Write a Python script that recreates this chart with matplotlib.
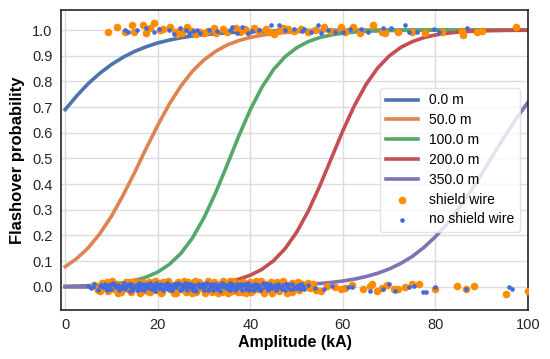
import numpy as np
import matplotlib
matplotlib.use('Agg')
import matplotlib.pyplot as plt

plt.rcParams['font.family'] = ['Liberation Sans', 'DejaVu Sans']

# curves, every 2.5 kA
amp = [0, 2.5, 5, 7.5, 10, 12.5, 15, 17.5, 20, 22.5, 25, 27.5, 30, 32.5, 35, 37.5, 40, 42.5, 45, 47.5,
       50, 52.5, 55, 57.5, 60, 62.5, 65, 67.5, 70, 72.5, 75, 77.5, 80, 82.5, 85, 87.5, 90, 92.5, 95, 97.5, 100]
curves = {
    '0.0 m': [0.690, 0.744, 0.792, 0.832, 0.866, 0.894, 0.917, 0.935, 0.950, 0.961, 0.970, 0.977, 0.982,
              0.986, 0.9895, 0.9920, 0.9938, 0.9953, 0.9964, 0.9972, 0.9979, 0.9984, 0.9988, 0.9991,
              0.9993, 0.9995, 0.9996, 0.9997, 0.9998, 0.9998, 0.9999, 0.9999, 0.9999, 0.9999,
              1.0, 1.0, 1.0, 1.0, 1.0, 1.0, 1.0],
    '50.0 m': [0.078, 0.110, 0.152, 0.207, 0.275, 0.356, 0.445, 0.539, 0.629, 0.712, 0.782, 0.840, 0.884,
               0.917, 0.942, 0.959, 0.9715, 0.980, 0.986, 0.9906, 0.9935, 0.9955, 0.9969, 0.9979,
               0.9985, 0.9990, 0.9993, 0.9995, 0.9997, 0.9998, 0.9998, 0.9999, 0.9999, 0.9999,
               1.0, 1.0, 1.0, 1.0, 1.0, 1.0, 1.0],
    '100.0 m': [0.0017, 0.0026, 0.0041, 0.0064, 0.0100, 0.0155, 0.0241, 0.0374, 0.0573, 0.0871, 0.130,
                0.190, 0.269, 0.366, 0.475, 0.587, 0.690, 0.777, 0.846, 0.896, 0.931, 0.955, 0.971,
                0.981, 0.988, 0.9922, 0.9950, 0.9968, 0.9980, 0.9987, 0.9992, 0.9995, 0.9997, 0.9998,
                0.9999, 0.9999, 1.0, 1.0, 1.0, 1.0, 1.0],
    '200.0 m': [0.0, 0.0001, 0.0001, 0.0001, 0.0002, 0.0004, 0.0006, 0.0009, 0.0014, 0.0022, 0.0034,
                0.0052, 0.0081, 0.0124, 0.0191, 0.0293, 0.0448, 0.0675, 0.101, 0.148, 0.212, 0.294,
                0.392, 0.500, 0.608, 0.706, 0.788, 0.852, 0.899, 0.9325, 0.955, 0.9707, 0.981, 0.9876,
                0.992, 0.9948, 0.9966, 0.9978, 0.9986, 0.9991, 0.9994],
    '350.0 m': [0.0, 0.0, 0.0, 0.0, 0.0001, 0.0001, 0.0001, 0.0001, 0.0002, 0.0003, 0.0004, 0.0005,
                0.0006, 0.0009, 0.0012, 0.0016, 0.0021, 0.0029, 0.0039, 0.0052, 0.0070, 0.0093, 0.0125,
                0.0167, 0.0223, 0.0298, 0.0395, 0.0524, 0.0691, 0.0907, 0.118, 0.153, 0.195, 0.245,
                0.304, 0.369, 0.440, 0.514, 0.587, 0.656, 0.719],
}
curve_colors = ['#4C72B0', '#DD8452', '#55A868', '#C44E52', '#8172B3']

# observed events (amplitude, outcome with plotting jitter)
shield_top = [(9.3, 0.993), (11.1, 1.013), (12.9, 0.993), (14.4, 1.020), (14.9, 0.993), (16.9, 1.020),
              (17.5, 0.990), (19.1, 1.027), (20.5, 1.000), (21.2, 1.005), (22.7, 1.013), (23.8, 0.993),
              (24.2, 0.985), (24.9, 1.000), (25.3, 0.987), (26.3, 1.013), (27.4, 0.997), (28.2, 0.985),
              (29.2, 0.993), (29.9, 0.987), (32.1, 1.010), (32.5, 0.988), (35.0, 0.993), (36.8, 1.010),
              (37.8, 0.993), (38.9, 1.003), (39.6, 0.992), (41.9, 0.995), (43.4, 1.005), (45.2, 0.985),
              (45.9, 0.995), (48.1, 1.005), (49.5, 0.995), (51.0, 1.003), (52.4, 0.993), (54.0, 1.000),
              (56.0, 1.013), (57.5, 0.995), (59.7, 1.013), (60.4, 0.993), (62.2, 1.013), (63.7, 0.987),
              (66.6, 1.020), (68.4, 0.993), (69.0, 0.987), (72.0, 0.993), (74.9, 0.993), (77.8, 0.990),
              (81.4, 0.993), (85.8, 0.997), (86.0, 0.980), (89.0, 0.993), (90.1, 0.997), (97.4, 1.013),
              (18.3, 1.008), (30.8, 0.998), (34.0, 1.004), (40.8, 1.010), (44.2, 0.992), (47.0, 1.010)]
shield_bottom = [(6.2, 0.008), (7.1, -0.012), (8.0, 0.015), (8.4, -0.004), (9.3, -0.018), (9.9, 0.006),
                 (10.6, -0.009), (11.2, 0.012), (11.8, -0.015), (12.5, 0.002), (13.1, 0.017), (13.6, -0.007),
                 (14.2, -0.020), (14.8, 0.010), (15.3, -0.002), (15.9, 0.014), (16.4, -0.013), (17.0, 0.004),
                 (17.6, -0.017), (18.1, 0.019), (18.7, -0.005), (19.2, 0.009), (19.8, -0.011), (20.3, 0.016),
                 (20.9, -0.019), (21.5, 0.001), (22.0, 0.013), (22.6, -0.008), (23.1, 0.006), (23.7, -0.016),
                 (24.3, 0.018), (24.8, -0.003), (25.4, 0.011), (25.9, -0.014), (26.5, 0.020), (27.1, -0.010),
                 (27.6, 0.003), (28.2, -0.021), (28.7, 0.015), (29.3, -0.006), (29.8, 0.008), (30.4, -0.017),
                 (31.0, 0.012), (31.5, -0.001), (32.1, 0.018), (32.6, -0.012), (33.2, 0.005), (33.8, -0.019),
                 (34.3, 0.010), (34.9, -0.004), (35.4, 0.016), (36.0, -0.015), (36.6, 0.002), (37.1, -0.009),
                 (37.7, 0.014), (38.2, -0.020), (38.8, 0.007), (39.4, -0.002), (39.9, 0.019), (40.5, -0.013),
                 (41.0, 0.004), (41.6, -0.008), (42.2, 0.013), (42.7, -0.018), (43.3, 0.009), (43.8, -0.005),
                 (44.4, 0.017), (45.0, -0.011), (45.5, 0.001), (46.1, -0.016), (46.6, 0.012), (47.2, -0.003),
                 (47.8, 0.008), (48.3, -0.014), (48.9, 0.015), (49.4, -0.007), (50.0, 0.003), (50.6, -0.012),
                 (51.1, 0.010), (51.7, -0.002), (52.4, 0.015), (53.0, -0.006), (55.3, -0.015), (58.2, -0.003),
                 (59.5, -0.008), (64.4, -0.008), (65.8, 0.004), (66.3, 0.012), (67.3, -0.015), (68.5, -0.004),
                 (72.0, -0.008), (73.4, -0.002), (74.9, 0.010), (76.4, 0.010), (79.9, -0.008), (84.7, 0.004),
                 (86.5, -0.008), (88.3, 0.004), (95.2, -0.028), (100.0, -0.015),
                 (9.0, 0.019), (12.0, -0.021), (15.0, 0.021), (18.4, -0.022), (21.2, 0.020), (23.4, -0.023),
                 (26.2, -0.020), (28.0, 0.022), (30.9, 0.021), (33.0, -0.024), (35.7, 0.022), (37.4, -0.022),
                 (40.1, -0.021), (42.4, 0.022), (44.7, -0.023), (47.0, 0.021), (49.0, -0.021), (16.8, 0.018),
                 (25.0, 0.002), (38.5, 0.020),
                 (7.6, -0.018), (10.2, 0.021), (11.5, -0.024), (13.9, 0.020), (16.1, -0.023), (19.5, 0.022),
                 (20.6, -0.025), (22.3, 0.023), (24.0, -0.026), (25.7, 0.024), (27.3, -0.024), (29.0, 0.020),
                 (30.1, -0.026), (31.8, -0.022), (34.0, 0.023), (35.1, -0.025), (36.3, 0.024), (39.0, -0.024),
                 (41.3, 0.021), (43.0, -0.025), (45.8, 0.020), (48.0, -0.024), (50.3, 0.019), (53.5, 0.010),
                 (54.2, -0.012), (56.5, 0.003), (60.5, -0.006), (62.0, 0.006), (69.5, 0.008), (71.0, -0.010)]
noshield_top = [(12.9, 1.000), (13.6, 0.993), (15.5, 1.000), (17.5, 1.010), (19.1, 0.993), (20.2, 1.005),
                (22.4, 1.000), (23.4, 0.985), (24.9, 1.010), (26.0, 1.000), (26.7, 0.990), (27.7, 0.995),
                (28.5, 1.000), (29.2, 0.987), (31.0, 1.000), (32.8, 0.995), (35.5, 1.000), (36.1, 1.013),
                (37.2, 0.990), (38.3, 1.013), (39.4, 0.987), (40.4, 0.995), (41.9, 1.000), (44.5, 1.020),
                (46.3, 1.020), (47.4, 1.000), (49.5, 1.005), (51.2, 0.995), (51.7, 1.005), (53.1, 0.993),
                (54.6, 1.020), (55.3, 0.987), (56.8, 1.000), (58.2, 0.993), (60.0, 0.993), (61.5, 1.005),
                (64.0, 1.005), (65.5, 0.993), (68.7, 1.010), (70.5, 1.010), (73.4, 1.020), (74.2, 0.993),
                (76.0, 0.993), (79.6, 1.005), (80.7, 0.993), (86.8, 1.010)]
noshield_bottom = [(5.0, 0.002), (5.6, -0.006), (6.3, 0.009), (7.0, -0.011), (7.5, 0.004), (8.1, -0.002),
                   (8.6, 0.012), (9.1, -0.014), (9.5, 0.005), (10.0, -0.008), (10.4, 0.013), (10.9, -0.003),
                   (11.3, 0.008), (11.7, -0.012), (12.2, 0.001), (12.6, 0.015), (13.0, -0.009), (13.4, 0.006),
                   (13.9, -0.015), (14.3, 0.010), (14.7, -0.004), (15.1, 0.003), (15.5, -0.011), (15.9, 0.013),
                   (16.3, -0.007), (16.7, 0.007), (17.1, -0.013), (17.5, 0.011), (17.9, -0.001), (18.3, 0.014),
                   (18.7, -0.010), (19.1, 0.004), (19.5, -0.016), (19.9, 0.009), (20.3, -0.005), (20.7, 0.012),
                   (21.1, -0.012), (21.5, 0.002), (21.9, 0.015), (22.3, -0.008), (22.7, 0.006), (23.1, -0.014),
                   (23.5, 0.010), (23.9, -0.002), (24.3, 0.013), (24.7, -0.011), (25.1, 0.005), (25.5, -0.006),
                   (25.9, 0.016), (26.3, -0.013), (26.7, 0.001), (27.1, 0.011), (27.5, -0.009), (27.9, 0.007),
                   (28.3, -0.015), (28.7, 0.012), (29.1, -0.003), (29.5, 0.009), (29.9, -0.011), (30.3, 0.004),
                   (30.7, 0.014), (31.1, -0.007), (31.5, 0.002), (31.9, -0.013), (32.3, 0.011), (32.7, -0.004),
                   (33.1, 0.008), (33.5, -0.016), (33.9, 0.013), (34.3, -0.001), (34.7, 0.006), (35.1, -0.010),
                   (35.5, 0.015), (35.9, -0.006), (36.3, 0.003), (36.7, -0.012), (37.1, 0.010), (37.5, -0.003),
                   (37.9, 0.012), (38.3, -0.014), (38.7, 0.005), (39.1, -0.008), (39.5, 0.014), (39.9, -0.002),
                   (40.3, 0.008), (40.7, -0.013), (41.1, 0.011), (41.5, -0.005), (41.9, 0.003), (42.3, -0.010),
                   (42.7, 0.013), (43.1, -0.001), (43.5, 0.006), (43.9, -0.014), (44.3, 0.010), (44.7, -0.006),
                   (45.1, 0.002), (45.6, -0.011), (46.0, 0.012), (46.5, -0.003), (47.0, 0.007), (47.5, -0.012),
                   (48.0, 0.004), (48.5, -0.007), (49.0, 0.010), (49.6, -0.002), (50.2, 0.006), (50.8, -0.009),
                   (51.4, 0.003), (51.7, -0.008), (52.5, 0.005), (54.0, -0.004), (56.0, -0.008), (57.7, 0.004),
                   (61.1, -0.003), (62.0, -0.003), (65.8, -0.015), (68.7, -0.008), (70.0, 0.012), (71.3, -0.015),
                   (74.2, -0.003), (75.3, 0.002), (77.4, -0.022), (78.0, -0.022), (79.9, -0.003), (86.5, -0.008),
                   (95.9, -0.003), (96.6, -0.008),
                   (8.8, -0.004), (11.0, 0.006), (13.2, -0.001), (15.3, 0.007), (17.3, 0.001), (19.3, -0.004),
                   (21.3, 0.007), (23.3, 0.000), (25.3, 0.008), (27.3, -0.002), (29.3, 0.004), (31.3, 0.008),
                   (33.3, -0.003), (35.3, 0.005), (37.3, 0.000), (39.3, 0.006), (41.3, -0.001), (43.3, 0.003),
                   (6.0, -0.001), (7.8, 0.007), (9.7, -0.010), (10.7, 0.001), (12.4, -0.006), (14.0, 0.004),
                   (14.5, -0.012), (16.0, 0.002), (16.5, 0.012), (18.0, -0.006), (18.9, 0.008), (20.0, 0.001),
                   (20.9, -0.009), (22.0, 0.004), (22.9, -0.011), (24.1, 0.007), (25.7, -0.003), (26.5, 0.010),
                   (28.0, -0.008), (28.9, 0.002), (30.0, 0.010), (30.9, -0.012), (32.0, 0.003), (32.9, -0.008),
                   (34.0, 0.009), (34.9, -0.004), (36.0, 0.011), (37.0, -0.007), (38.0, 0.002), (38.9, 0.010),
                   (40.0, -0.009), (41.0, 0.004), (42.0, -0.013), (43.0, 0.009), (44.0, -0.002), (45.4, 0.007),
                   (46.8, -0.008), (48.2, 0.009), (50.0, -0.004), (51.0, 0.011),
                   (9.9, 0.010), (11.9, -0.005), (13.7, 0.012), (15.7, -0.014), (17.7, 0.006), (19.7, 0.013),
                   (21.7, -0.006), (23.7, 0.012), (25.0, -0.012), (26.0, 0.004), (27.7, -0.013), (29.7, 0.001),
                   (31.7, 0.012), (33.7, 0.001), (35.7, -0.013), (37.7, 0.006), (39.7, -0.011), (41.7, 0.008),
                   (43.7, 0.011), (45.9, -0.002), (47.8, 0.012), (49.3, -0.010)]

fig = plt.figure(figsize=(5.5, 3.59), dpi=100)
ax = fig.add_axes([0.111, 0.137, 0.849, 0.835])

for (label, vals), c in zip(curves.items(), curve_colors):
    ax.plot(amp, vals, color=c, lw=2.6, label=label)

shield = np.array(shield_top + shield_bottom)
noshield = np.array(noshield_top + noshield_bottom)
ax.scatter(shield[:, 0], shield[:, 1], s=30, color='darkorange', lw=0, label='shield wire', zorder=3)
ax.scatter(noshield[:, 0], noshield[:, 1], s=11, color='royalblue', lw=0, label='no shield wire', zorder=4)

ax.set_xlim(-0.9, 100)
ax.set_ylim(-0.09, 1.078)
ax.set_xticks([0, 20, 40, 60, 80, 100])
ax.set_yticks(np.arange(0, 1.01, 0.1))
ax.set_yticklabels([f'{v:.1f}' for v in np.arange(0, 1.01, 0.1)])
ax.grid(True, color='#dcdcdc', lw=1)
ax.set_axisbelow(True)
ax.tick_params(length=0, colors='#262626', pad=6)
ax.tick_params(axis='x', labelsize=10.5)
ax.tick_params(axis='y', labelsize=10.5)
for s in ax.spines.values():
    s.set_color('#262626')
    s.set_linewidth(1.2)

ax.set_xlabel('Amplitude (kA)', fontsize=11.5, fontweight='bold', labelpad=2)
ax.set_ylabel('Flashover probability', fontsize=12, fontweight='bold', labelpad=5)

ax.legend(loc='center right', fontsize=10, handlelength=2.3, labelspacing=0.42,
          framealpha=0.8, edgecolor='#dddddd', borderaxespad=0.6)

fig.savefig('out.png', dpi=100)
